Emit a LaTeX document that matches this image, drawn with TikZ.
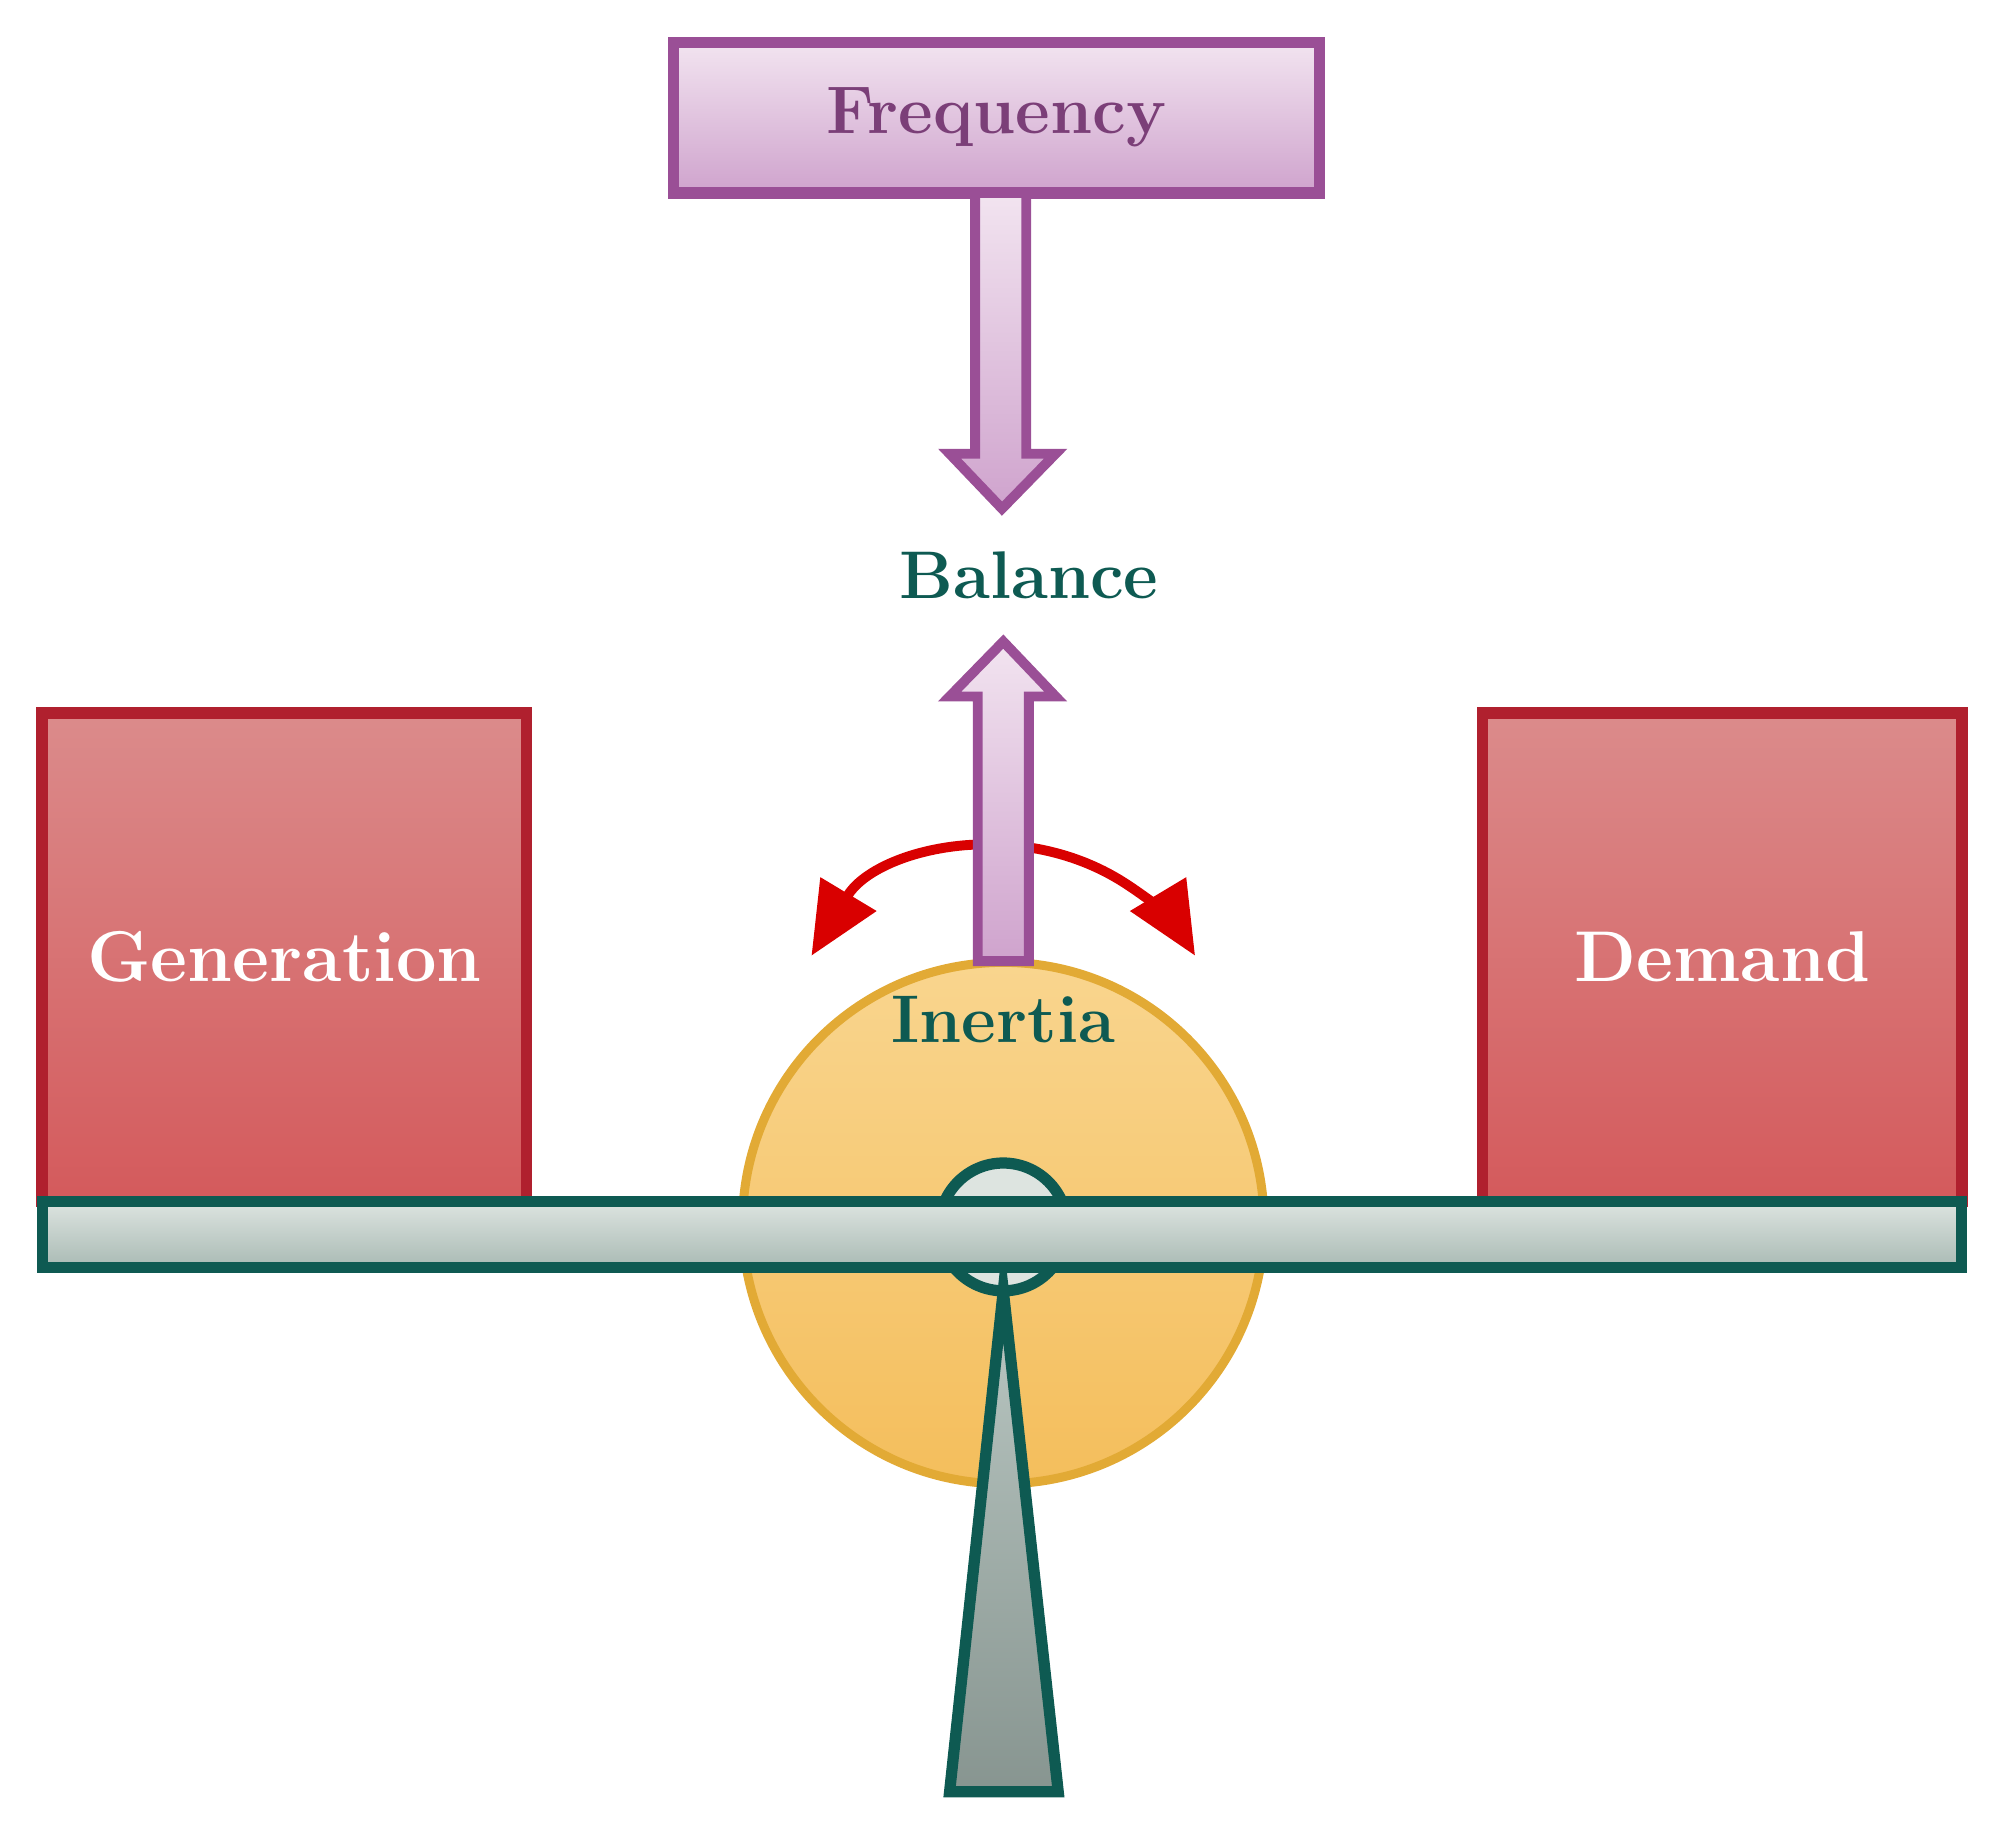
\documentclass[tikz,border=0pt]{standalone}
\usepackage{tikz}
\usetikzlibrary{arrows.meta,calc}
\definecolor{boxred}{HTML}{B0202E}
\definecolor{redtop}{HTML}{DB8B8B}
\definecolor{redbot}{HTML}{D45A5C}
\definecolor{purp}{HTML}{9A4F96}
\definecolor{purtop}{HTML}{F2E4F0}
\definecolor{purbot}{HTML}{CFA3CD}
\definecolor{teal}{HTML}{0E5A52}
\definecolor{beamtop}{HTML}{DDE4E0}
\definecolor{beambot}{HTML}{A9BAB4}
\definecolor{sunline}{HTML}{E2AA35}
\definecolor{suntop}{HTML}{F9D58E}
\definecolor{sunbot}{HTML}{F4BE5C}
\tikzset{
  weight/.style={draw=boxred,line width=2.5pt,top color=redtop,bottom color=redbot,
    minimum width=3.79cm,minimum height=3.82cm,inner sep=0pt,
    text=white,font=\fontsize{16}{18}\selectfont\bfseries},
  fatarrow/.style={draw=purp,line width=2.2pt,top color=purtop,bottom color=purbot},
  label/.style={text=teal,font=\fontsize{15}{18}\selectfont\bfseries}
}
\begin{document}
\begin{tikzpicture}[x=0.01cm,y=-0.01cm]
\useasboundingbox (0,0) rectangle (1568,1434);
%frequency box and arrow down
\node[draw=purp,line width=2.5pt,top color=purtop,bottom color=purbot,minimum width=5.05cm,
  minimum height=1.18cm,text=purp!80!black,font=\fontsize{15}{18}\selectfont\bfseries]
  (freq) at (779.5,92) {Frequency};
\draw[fatarrow] (763,151)--(763,355)--(743,355)--(784,398)--(826,355)--(803,355)--(803,151)--cycle;
\node[label] (bal) at (805,450) {Balance};
%inertia wheel
\draw[draw=sunline,line width=2pt,top color=suntop,bottom color=sunbot] (785,957) circle (204);
\coordinate (swing) at (785,838);
\draw[red!85!black,line width=2.2pt,{Triangle[length=16pt,width=14pt]}-{Triangle[length=16pt,width=14pt]}]
  ($(swing)+(149:1.75cm)$) arc[start angle=149,end angle=31,radius=1.75cm];
\draw[fatarrow] (765,752)--(765,545)--(743,545)--(785,502)--(826,545)--(805,545)--(805,752)--cycle;
\node[label] (inertia) at (785,798) {Inertia};
%weights
\node[weight] (gen) at (222.5,749) {Generation};
\node[weight,minimum width=3.75cm] (dem) at (1347.5,749) {Demand};
%pivot and stand
\draw[teal,line width=2.5pt,fill=beamtop] (785,960) circle (50);
\draw[teal,line width=2.5pt,top color=beambot!80!white,bottom color=beambot!80!black]
  (785,1010)--(828,1402)--(743,1402)--cycle;
\draw[teal,line width=2.5pt,top color=beamtop,bottom color=beambot] (33,940) rectangle (1535,992);
\end{tikzpicture}
\end{document}
